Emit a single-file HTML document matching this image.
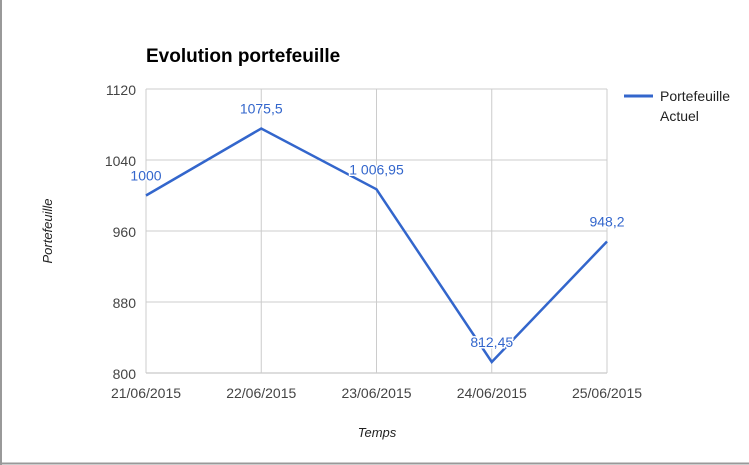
<!DOCTYPE html>
<html><head><meta charset="utf-8"><style>
body{margin:0;background:#fff;}
svg{display:block;font-family:"Liberation Sans",Arial,sans-serif;}
</style></head><body>
<svg id="c" width="749" height="465">
<line x1="1" y1="0" x2="1" y2="465" stroke="#999" stroke-width="2"/>
<line x1="0" y1="463.5" x2="749" y2="463.5" stroke="#999" stroke-width="2"/>
<text x="146" y="62" font-size="19" font-weight="bold" fill="#000">Evolution portefeuille</text>
<text transform="translate(52,231) rotate(-90)" text-anchor="middle" font-size="13" font-style="italic" fill="#222">Portefeuille</text>
<text x="377" y="437" text-anchor="middle" font-size="13" font-style="italic" fill="#222">Temps</text>
<g>
<line x1="624" y1="96" x2="653" y2="96" stroke="#3366cc" stroke-width="3"/>
<text x="660" y="101" font-size="14" fill="#222">Portefeuille</text>
<text x="660" y="121" font-size="14" fill="#222">Actuel</text>
</g>
<g id="grid"></g><g id="marks"></g>
</svg>
<script>
const categories=["21/06/2015","22/06/2015","23/06/2015","24/06/2015","25/06/2015"];
const values=[1000,1075.5,1006.95,812.45,948.2];
const valueLabels=["1000","1075,5","1 006,95","812,45","948,2"];
const yTicks=[800,880,960,1040,1120];
const L=146,R=607,T=89,B=373,yMin=800,yMax=1120;
const x=i=>L+(R-L)*i/(categories.length-1);
const y=v=>B-(v-yMin)/(yMax-yMin)*(B-T);
const NS="http://www.w3.org/2000/svg";
const g=document.getElementById('grid'),m=document.getElementById('marks');
function mk(t,a,p){const e=document.createElementNS(NS,t);for(const k in a)e.setAttribute(k,a[k]);p.appendChild(e);return e;}
yTicks.forEach(v=>{
 const l=mk('line',{x1:L,x2:R,y1:y(v),y2:y(v),stroke:v===yMin?'#bbb':'#ccc'},g);
 
 
 const t=mk('text',{x:L-10,y:y(v)+6,'text-anchor':'end','font-size':14,fill:'#444'},g);t.textContent=v;
 
 
});
categories.forEach((c,i)=>{
 const l=mk('line',{x1:x(i),x2:x(i),y1:T,y2:B,stroke:'#ccc'},g);
 
 
 const t=mk('text',{x:x(i),y:B+25,'text-anchor':'middle','font-size':14,fill:'#444'},g);t.textContent=c;
 
 
});
const pl=mk('polyline',{points:values.map((v,i)=>x(i)+','+y(v)).join(' '),fill:'none',stroke:'#3366cc','stroke-width':2.5,'stroke-linejoin':'miter'},m);


values.forEach((v,i)=>{
 const t=mk('text',{x:x(i),y:y(v)-15,'text-anchor':'middle','font-size':14,fill:'#3366cc',stroke:'#fff','stroke-width':3,'paint-order':'stroke'},m);
 t.textContent=valueLabels[i];
 
 
});
</script>
</body></html>
